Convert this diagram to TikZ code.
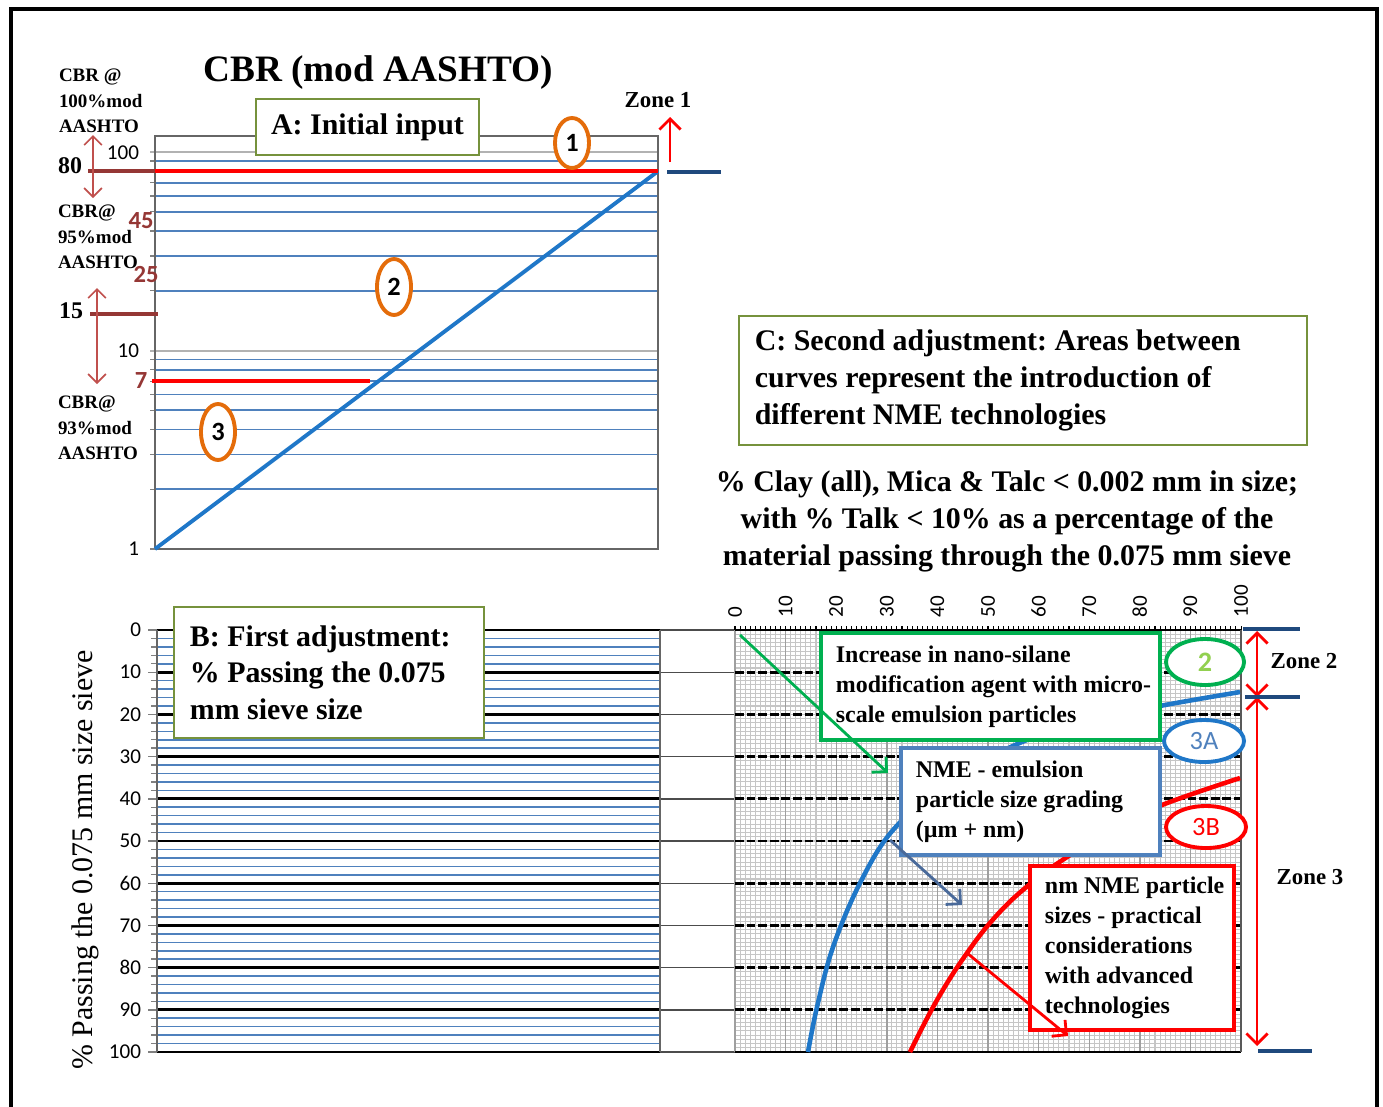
\documentclass[tikz,border=0pt]{standalone}
\usepackage{fontspec}
\setmainfont{Liberation Serif}
\newfontfamily\numfont{Carlito}
\usetikzlibrary{positioning,shapes.geometric,arrows.meta,calc}

\definecolor{gridblue}{HTML}{4F81BD}
\definecolor{curveblue}{HTML}{1F77C8}
\definecolor{boxolive}{HTML}{76923C}
\definecolor{ovalorange}{HTML}{E46C0A}
\definecolor{zonenavy}{HTML}{1F497D}
\definecolor{markred}{HTML}{953735}
\definecolor{pinkred}{HTML}{C0504D}
\definecolor{nmegreen}{HTML}{00B050}
\definecolor{lightgreen}{HTML}{92D050}
\definecolor{slateblue}{HTML}{4A6A9A}

\begin{document}
\frenchspacing
\begin{tikzpicture}[x=0.01cm, y=-0.01cm, outer sep=0pt,
    logline/.style={gridblue, line width=0.45pt},
    panelbox/.style={draw=boxolive, line width=0.7pt, fill=white, inner sep=0pt, font=\fontsize{8.5}{10.5}\selectfont\bfseries},
    paneltext/.style={align=left, inner sep=0pt, font=\fontsize{8.5}{10.4}\selectfont\bfseries},
    techbox/.style={draw=#1, line width=1.2pt, fill=white, inner sep=0pt},
    techtext/.style={align=left, inner sep=0pt, font=\fontsize{6.8}{8.5}\selectfont\bfseries},
    oval/.style={draw=#1, ellipse, line width=1.1pt, fill=white, inner sep=0pt},
    sidelabel/.style={anchor=west, align=left, inner sep=0pt, font=\fontsize{5.4}{7.3}\selectfont\bfseries},
    ticklabel/.style={anchor=east, inner sep=0pt, font=\numfont\fontsize{6}{7}\selectfont},
    redlabel/.style={inner sep=0pt, text=markred, font=\numfont\bfseries\fontsize{7}{8}\selectfont},
    zonetext/.style={inner sep=0pt, font=\fontsize{6.5}{8}\selectfont\bfseries},
    barb/.style={-{Straight Barb[length=3pt,width=6pt]}},
    zonearrow/.style={red, line width=0.8pt, {Straight Barb[length=3pt,width=6pt]}-{Straight Barb[length=3pt,width=6pt]}}]
\useasboundingbox (0,0) rectangle (1383,1106);
\draw[line width=0.9pt] (11,1115) -- (11,9) -- (1377,9) -- (1377,1115);

% A: log scale of CBR
\foreach \v in {2,3,4,5,6,7,8,9,20,30,40,50,60,70,80,90}{
  \pgfmathsetmacro\yy{549-198.5*log10(\v)}
  \draw[logline] (155,\yy) -- (658,\yy);
  \draw[gray] (150,\yy) -- (155,\yy);
}
\foreach \yy in {152,351}{
  \draw[gray!60, line width=0.45pt] (150,\yy) -- (658,\yy);
}
\draw[gray!80!black, line width=0.6pt] (155,136) rectangle (658,549);
\draw[gray] (150,549) -- (155,549);

\coordinate (aorigin) at (155,549);
\coordinate (atop) at (658,171.2);
\coordinate (r80l) at (155,171.2);
\coordinate (r7l) at (152,381.3);
\coordinate (r7r) at (370,381.3);
\draw[curveblue, line width=1.1pt] (aorigin) -- (atop);
\draw[red, line width=1.2pt] (r80l) -- (atop);
\draw[red, line width=1.2pt] (r7l) -- (r7r);

\node[font=\fontsize{10.6}{12}\selectfont\bfseries] (title) at (378,73) {CBR (mod AASHTO)};
\node[panelbox, minimum width=2.23cm, minimum height=0.56cm] (boxA) at (367.5,127) {A: Initial input};

\node[sidelabel] (cbr100) at (59,101) {CBR @\\100\%mod\\AASHTO};
\node[sidelabel] (cbr95) at (58,237) {CBR@\\95\%mod\\AASHTO};
\node[sidelabel] (cbr93) at (58,428) {CBR@\\93\%mod\\AASHTO};
\node[inner sep=0pt, font=\fontsize{6.8}{8}\selectfont\bfseries] (v80) at (70,166) {80};
\node[inner sep=0pt, font=\fontsize{6.8}{8}\selectfont\bfseries] (v15) at (71,311) {15};
\node[redlabel] (v45) at (141,221) {45};
\node[redlabel] (v25) at (146,275) {25};
\node[redlabel] (v7) at (141,381) {7};
\node[ticklabel] (t100) at (139,153) {100};
\node[ticklabel] (t10) at (139,351) {10};
\node[ticklabel] (t1) at (139,549) {1};

\coordinate (bar80l) at (88,171.2);
\coordinate (bar15l) at (90,314);
\coordinate (bar15r) at (158,314);
\draw[markred, line width=1.2pt] (bar80l) -- (r80l);
\draw[markred, line width=1.2pt] (bar15l) -- (bar15r);
\coordinate (up80) at (93,135);
\coordinate (dn80) at (93,198);
\coordinate (up15) at (97,288);
\coordinate (dn15) at (97,384);
\draw[pinkred, line width=0.5pt, {Straight Barb[length=2.5pt,width=5pt]}-{Straight Barb[length=2.5pt,width=5pt]}] (up80) -- (dn80);
\draw[pinkred, line width=0.5pt, {Straight Barb[length=2.5pt,width=5pt]}-{Straight Barb[length=2.5pt,width=5pt]}] (up15) -- (dn15);

\node[oval=ovalorange, minimum width=0.34cm, minimum height=0.5cm, font=\numfont\bfseries\fontsize{7.5}{8}\selectfont] (c1) at (572,143) {1};
\node[oval=ovalorange, minimum width=0.34cm, minimum height=0.56cm, font=\numfont\bfseries\fontsize{7.5}{8}\selectfont] (c2) at (394,287) {2};
\node[oval=ovalorange, minimum width=0.34cm, minimum height=0.56cm, font=\numfont\bfseries\fontsize{7.5}{8}\selectfont] (c3) at (218,432) {3};

\node[zonetext] (zone1) at (658,100) {Zone 1};
\coordinate (z1a) at (670,162);
\coordinate (z1b) at (670,117);
\draw[red, line width=0.8pt, barb] (z1a) -- (z1b);
\coordinate (n1l) at (667,172);
\coordinate (n1r) at (721,172);
\draw[zonenavy, line width=1.2pt] (n1l) -- (n1r);

% B: percent passing
\foreach \v in {2,4,...,98}{
  \pgfmathsetmacro\yy{630+4.22*\v}
  \draw[logline] (157,\yy) -- (660,\yy);
  \draw[gray] (151,\yy) -- (157,\yy);
}
\foreach \v in {0,10,...,100}{
  \pgfmathsetmacro\yy{630+4.22*\v}
  \draw[black, line width=0.8pt] (157,\yy) -- (660,\yy);
  \draw[black!70, line width=0.4pt] (660,\yy) -- (735,\yy);
  \draw[gray] (148,\yy) -- (157,\yy);
  \node[ticklabel] (bt\v) at (141,\yy) {\v};
}
\draw[gray!80!black, line width=0.5pt] (157,630) -- (157,1052);
\draw[gray!80!black, line width=0.5pt] (660,630) -- (660,1052);
\node[rotate=90, inner sep=0pt, font=\fontsize{8.5}{10}\selectfont] (yaxis) at (85,860) {\% Passing the 0.075 mm size sieve};
\node[panelbox, minimum width=3.10cm, minimum height=1.31cm] (boxB) at (329,672.5) {};
\node[paneltext, right=0.16cm of boxB.west] (textB) {B: First adjustment:\\\% Passing the 0.075\\mm sieve size};

% C: clay grid
\foreach \u in {0,...,100}{
  \pgfmathsetmacro\xx{735+5.06*\u}
  \draw[gray!45, line width=0.3pt] (\xx,630) -- (\xx,1052);
  \draw[black, line width=0.3pt] (\xx,626) -- (\xx,630);
}
\foreach \v in {1,...,99}{
  \pgfmathsetmacro\yy{630+4.22*\v}
  \draw[gray!45, line width=0.3pt] (735,\yy) -- (1241,\yy);
}
\foreach \u in {0,10,...,100}{
  \pgfmathsetmacro\xx{735+5.06*\u}
  \draw[gray!75, line width=0.4pt] (\xx,630) -- (\xx,1052);
  \node[rotate=90, anchor=west, inner sep=0pt, font=\numfont\fontsize{6}{7}\selectfont] (ct\u) at (\xx,617) {\u};
}
\foreach \v in {10,20,...,90}{
  \pgfmathsetmacro\yy{630+4.22*\v}
  \draw[black, line width=0.8pt, dash pattern=on 2.5pt off 0.8pt] (735,\yy) -- (1241,\yy);
}
\draw[black, line width=0.8pt] (735,630) -- (1241,630);
\draw[black, line width=0.8pt] (735,1052) -- (1241,1052);
\draw[gray!70!black, line width=0.5pt] (1241,630) -- (1241,1052);

\draw[curveblue, line width=1.3pt] plot[smooth, tension=0.6] coordinates {(808,1052) (817,1007) (833,947) (860,883) (893,830) (945,785) (1015,745) (1090,720) (1165,705) (1240,692)};
\draw[red, line width=1.3pt] plot[smooth, tension=0.7] coordinates {(910,1052) (937,1000) (967,953) (997,915) (1030,884) (1067,857) (1115,828) (1162,805) (1240,778)};

\node[panelbox, minimum width=5.68cm, minimum height=1.29cm] (boxC) at (1023,380.5) {};
\node[paneltext, font=\fontsize{8.5}{10.5}\selectfont\bfseries, right=0.16cm of boxC.west] (textC) {C: Second adjustment: Areas between\\curves represent the introduction of\\different NME technologies};
\node[align=center, inner sep=0pt, font=\fontsize{8.5}{10.5}\selectfont\bfseries] (clay) at (1007,521) {\% Clay (all), Mica \& Talc < 0.002 mm in size;\\with \% Talk < 10\% as a percentage of the\\material passing through the 0.075 mm sieve};

\node[techbox=nmegreen, minimum width=3.39cm, minimum height=1.07cm] (boxgreen) at (990.5,686.5) {};
\node[techtext, right=0.15cm of boxgreen.west] (textgreen) {Increase in nano-silane\\modification agent with micro-\\scale emulsion particles};
\node[techbox=gridblue, minimum width=2.59cm, minimum height=1.07cm] (boxblue) at (1030.5,801.5) {};
\node[techtext, right=0.15cm of boxblue.west] (textblue) {NME - emulsion\\particle size grading\\(µm + nm)};
\node[techbox=red, minimum width=2.04cm, minimum height=1.64cm] (boxred) at (1132,948) {};
\node[techtext, right=0.15cm of boxred.west] (textred) {nm NME particle\\sizes - practical\\considerations\\with advanced\\technologies};

\coordinate (gtail) at (740,635);
\coordinate (ghead) at (888,773);
\coordinate (stail) at (890,840);
\coordinate (shead) at (962,905);
\coordinate (rtail) at (967,953);
\coordinate (rhead) at (1068,1036);
\draw[nmegreen, line width=0.8pt, barb] (gtail) -- (ghead);
\draw[slateblue, line width=0.8pt, barb] (stail) -- (shead);
\draw[red, line width=0.8pt, barb] (rtail) -- (rhead);

\node[oval=nmegreen, minimum width=0.78cm, minimum height=0.46cm, text=lightgreen, font=\numfont\bfseries\fontsize{8}{9}\selectfont] (o2) at (1205,662) {2};
\node[oval=curveblue, minimum width=0.80cm, minimum height=0.42cm, text=gridblue, font=\numfont\fontsize{7.5}{9}\selectfont] (o3a) at (1204,741) {3A};
\node[oval=red, minimum width=0.80cm, minimum height=0.42cm, text=red, font=\numfont\fontsize{7.5}{9}\selectfont] (o3b) at (1206,827) {3B};

\coordinate (z2top) at (1257,631);
\coordinate (z2mid) at (1257,697);
\coordinate (z3bot) at (1257,1046);
\draw[zonearrow] (z2top) -- (z2mid);
\draw[zonearrow] (z2mid) -- (z3bot);
\draw[zonenavy, line width=1.2pt] (1243,629) -- (1300,629);
\draw[zonenavy, line width=1.2pt] (1245,697) -- (1300,697);
\draw[zonenavy, line width=1.2pt] (1258,1051) -- (1312,1051);
\node[zonetext] (zone2) at (1304,661) {Zone 2};
\node[zonetext] (zone3) at (1310,877) {Zone 3};
\end{tikzpicture}
\end{document}
